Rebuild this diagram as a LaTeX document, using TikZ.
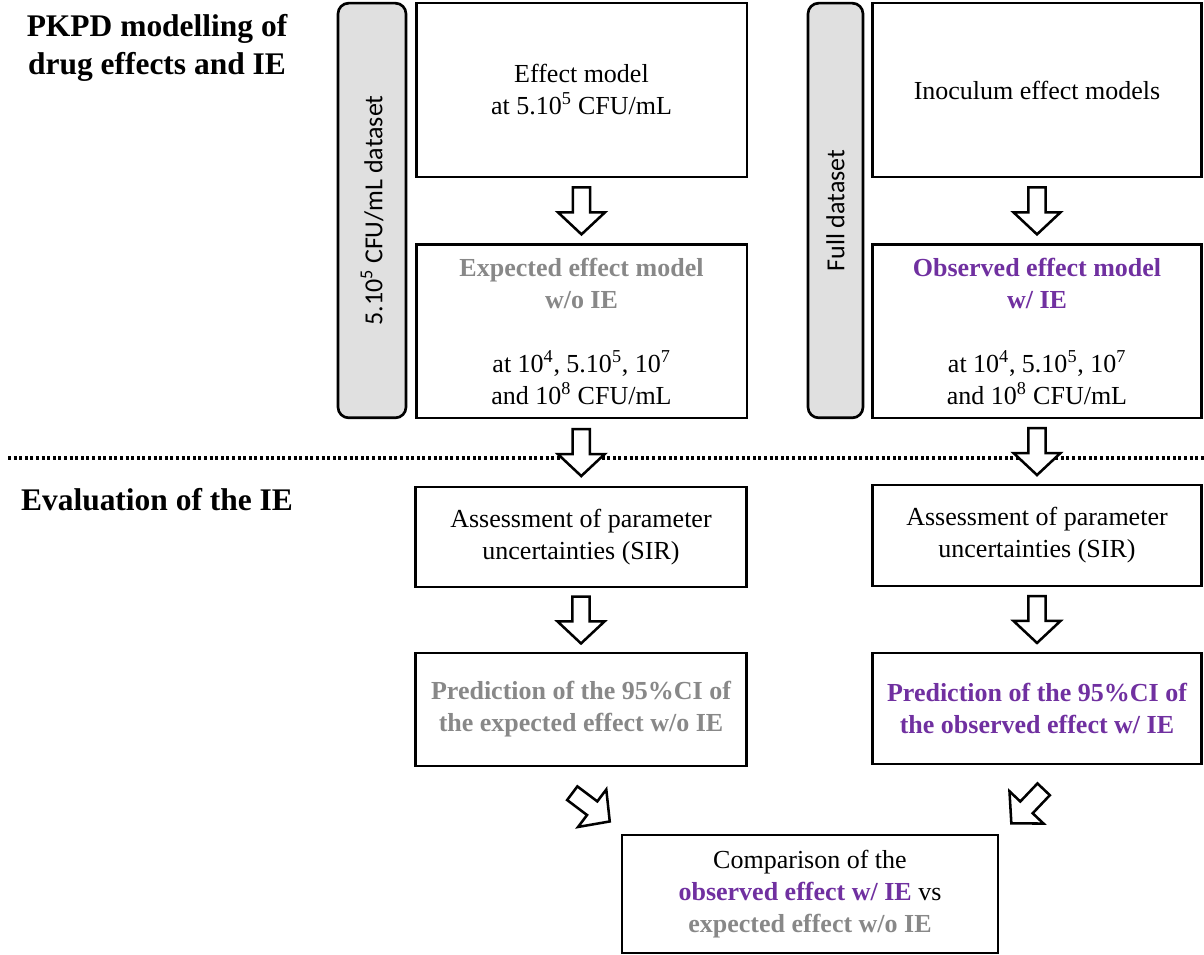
\documentclass[tikz,border=0pt]{standalone}
\usepackage{fontspec}
\setmainfont{Liberation Serif}
\newfontfamily\barfont{Carlito}
\usetikzlibrary{calc}
\definecolor{ieGray}{RGB}{136,136,136}
\definecolor{iePurple}{RGB}{112,48,160}
\definecolor{barFill}{RGB}{224,224,224}
\newcommand\blockarrow[2]{%
  \draw[blockarr, shift={#1}, rotate=#2]
    (-17.6pt,-6.4pt) -- (1.1pt,-6.4pt) -- (1.1pt,-17.6pt) -- (17.6pt,0pt)
    -- (1.1pt,17.6pt) -- (1.1pt,6.4pt) -- (-17.6pt,6.4pt) -- cycle;}
\begin{document}
\begin{tikzpicture}[x=0.75pt,y=0.75pt,
  box/.style={draw=black, line width=2pt, rectangle, align=center, inner sep=0pt,
    font=\fontsize{19.5}{24}\selectfont, minimum width=248pt},
  bar/.style={draw=black, line width=2pt, fill=barFill, rounded corners=8pt,
    inner sep=0pt, minimum height=311pt},
  bartext/.style={rotate=90, font=\barfont\fontsize{19.5}{24}\selectfont, inner sep=0pt},
  heading/.style={align=center, inner sep=0pt, font=\bfseries\fontsize{23.6}{28}\selectfont},
  blockarr/.style={draw=black, fill=white, line width=1.9pt, line join=miter},
  sepline/.style={line width=2.5pt, dash pattern=on 2.2pt off 2pt}]
\useasboundingbox (0,0) rectangle (1204,-955);
% headings
\node[heading] (h1) at (157,-48) {PKPD modelling of\\drug effects and IE};
\node[heading] (h2) at (157,-500) {Evaluation of the IE};
% separator
\coordinate (sepL) at (8,-458);
\coordinate (sepR) at (1204,-458);
\draw[sepline] (sepL) -- (sepR);
% bars
\node[bar, minimum width=51pt] (barL) at (372,-210.5) {};
\node[bartext] (barLt) at (barL.center) {5.10\textsuperscript{5} CFU/mL dataset};
\node[bar, minimum width=41.25pt] (barR) at (835.5,-210.5) {};
\node[bartext] (barRt) at (barR.center) {Full dataset};
% upper boxes
\node[box, minimum height=130.5pt] (A) at (581.5,-90) {Effect model\\at 5.10\textsuperscript{5} CFU/mL};
\node[box, minimum height=130pt] (B) at (581.5,-331.5) {\textcolor{ieGray}{\bfseries Expected effect model}\\\textcolor{ieGray}{\bfseries w/o IE}\\[24pt]at 10\textsuperscript{4}, 5.10\textsuperscript{5}, 10\textsuperscript{7}\\and 10\textsuperscript{8} CFU/mL};
\node[box, minimum height=130.5pt, minimum width=247pt] (C) at (1037,-90) {Inoculum effect models};
\node[box, minimum height=130pt, minimum width=247pt] (D) at (1037,-331.5) {\textcolor{iePurple}{\bfseries Observed effect model}\\\textcolor{iePurple}{\bfseries w/ IE}\\[24pt]at 10\textsuperscript{4}, 5.10\textsuperscript{5}, 10\textsuperscript{7}\\and 10\textsuperscript{8} CFU/mL};
% lower boxes
\node[box, minimum height=75pt] (E) at (581,-537) {Assessment of parameter\\uncertainties (SIR)};
\node[box, minimum height=75.75pt, minimum width=247pt] (F) at (1037,-535.5) {Assessment of parameter\\uncertainties (SIR)};
\node[box, minimum height=84.75pt] (G) at (581,-709.5) {\textcolor{ieGray}{\bfseries Prediction of the 95\%CI of}\\\textcolor{ieGray}{\bfseries the expected effect w/o IE}};
\node[box, minimum height=83.25pt, minimum width=247pt] (H) at (1037,-708.5) {\textcolor{iePurple}{\bfseries Prediction of the 95\%CI of}\\\textcolor{iePurple}{\bfseries the observed effect w/ IE}};
\node[box, minimum height=88.5pt, minimum width=282pt] (K) at (810,-894) {Comparison of the\\\textcolor{iePurple}{\bfseries observed effect w/ IE} vs\\\textcolor{ieGray}{\bfseries expected effect w/o IE}};
% block arrows
\blockarrow{($(A.south)!0.5!(B.north)$)}{-90}
\blockarrow{($(C.south)!0.5!(D.north)$)}{-90}
\blockarrow{($(B.south)!0.5!(E.north)$)}{-90}
\blockarrow{($(D.south)!0.5!(F.north)$)}{-90}
\blockarrow{($(E.south)!0.5!(G.north)$)}{-90}
\blockarrow{($(F.south)!0.5!(H.north)$)}{-90}
\blockarrow{($(G.south)+(10,-40)$)}{-37}
\blockarrow{($(H.south)+(-9.5,-41)$)}{-133.5}
\end{tikzpicture}
\end{document}
